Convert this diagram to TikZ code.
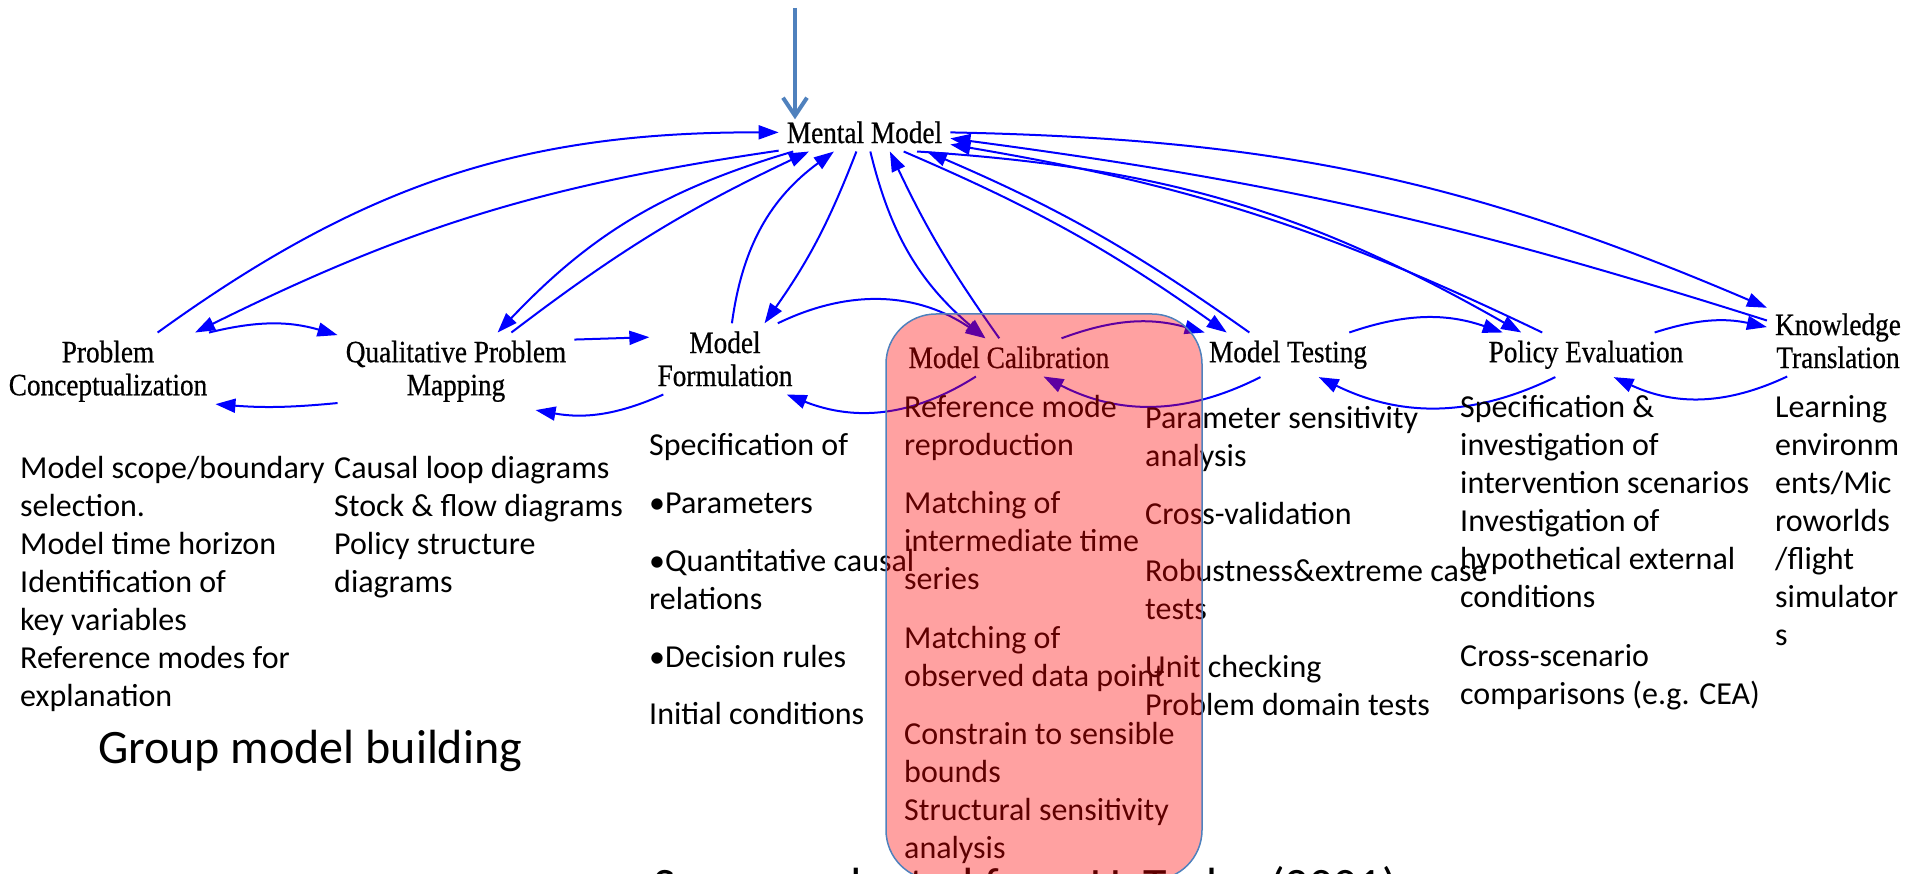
\documentclass[tikz,border=0pt]{standalone}
\usepackage{fontspec}
\setmainfont{Carlito}
\newfontfamily\vensimfont[FakeStretch=0.88,FakeBold=0.6]{Liberation Serif}
\usetikzlibrary{arrows.meta}
\definecolor{linkblue}{RGB}{0,0,255}
\definecolor{steelblue}{RGB}{79,129,189}
\tikzset{
	var/.style={font=\vensimfont\fontsize{31}{33}\selectfont,align=center,inner sep=8pt},
	link/.style={draw=linkblue,line width=2pt,-{Triangle[length=20pt,width=14pt]}},
	notes/.style={font=\fontsize{32}{38}\selectfont,align=left,anchor=base west,inner sep=0pt},
	caption/.style={font=\fontsize{48}{58}\selectfont,anchor=base west,inner sep=0pt}
}
\begin{document}
\begin{tikzpicture}[x=1pt,y=1pt,line join=round]
		\useasboundingbox (0,0) rectangle (1925,-874);
		\node[var] (mm) at (864.5,-132.4) {Mental Model};
		\node[var] (pc) at (108,-371.3) {Problem\\Conceptualization};
		\node[var] (qpm) at (456,-371.3) {Qualitative Problem\\Mapping};
		\node[var] (mf) at (725,-358.9) {Model\\Formulation};
		\node[var] (mc) at (1009,-357.4) {Model Calibration};
		\node[var] (mt) at (1288,-354.8) {Model Testing};
		\node[var] (pe) at (1586,-354.8) {Policy Evaluation};
		\node[var] (kt) at (1838,-340.9) {Knowledge\\Translation};
		\foreach \a/\b/\d in {pc.38/mm.180/18, mm.192/pc.24/-9, mm.195/qpm.43/-15, qpm.35/mm.199/6,
			mf.79/mm.212/23, mm.247/mf.42/7, mm.287/mc.141/-18, mc.117/mm.323/5,
			mm.334/mt.160/6, mt.150/mm.343/-6, mm.340/pe.161/13, pe.153/mm.352/-8,
			mm.0/kt.155/11, kt.164/mm.356/-5,
			pc.21/qpm.163/15, qpm.195/pc.343/5, qpm.15/mf.164/0, mf.210/qpm.334/17,
			mf.34/mc.141/30, mc.210/mf.330/27, mc.20/mt.165/18, mt.219/mc.331/27,
			mt.20/pe.165/19, pe.216/mt.324/26, pe.18/kt.169/15, kt.215/pe.321/25}
			\draw[link] (\a) to[bend left=\d] (\b);
		\coordinate (feed) at (795,-8);
		\draw[steelblue,line width=4pt,shorten >=-6pt,-{Straight Barb[length=18pt,width=24pt]}] (feed) -- (feed |- mm.north);
		\node[notes] (pcnotes) at (20,-706) {Model scope/boundary\\selection.\\Model time horizon\\Identification of\\key variables\\Reference modes for\\explanation};
		\node[notes] (qpmnotes) at (334,-592) {Causal loop diagrams\\Stock \& flow diagrams\\Policy structure\\diagrams};
		\node[notes] (mfnotes) at (649,-724) {Specification of\\[20pt]•Parameters\\[20pt]•Quantitative causal\\relations\\[20pt]•Decision rules\\[19pt]Initial conditions};
		\node[notes] (mcnotes) at (904,-858) {Reference mode\\reproduction\\[20pt]Matching of\\intermediate time\\series\\[21pt]Matching of\\observed data point\\[20pt]Constrain to sensible\\bounds\\Structural sensitivity\\analysis};
		\node[notes] (mtnotes) at (1145,-715) {Parameter sensitivity\\analysis\\[20pt]Cross-validation\\[19pt]Robustness\&extreme case\\tests\\[20pt]Unit checking\\Problem domain tests};
		\node[notes] (penotes) at (1460,-704) {Specification \&\\investigation of\\intervention scenarios\\Investigation of\\hypothetical external\\conditions\\[21pt]Cross-scenario\\comparisons (e.g. CEA)};
		\node[notes] (ktnotes) at (1775,-645) {Learning\\environm\\ents/Mic\\roworlds\\/flight\\simulator\\s};
		\node[caption] (gmb) at (98,-763) {Group model building};
		\node[caption] (source) at (653,-901) {Source: adapted from U. Taylor (2001)};
		\draw[steelblue,line width=1.5pt,fill=red,fill opacity=.37,rounded corners=50pt] (886,-314) rectangle (1202,-880);
\end{tikzpicture}
\end{document}
